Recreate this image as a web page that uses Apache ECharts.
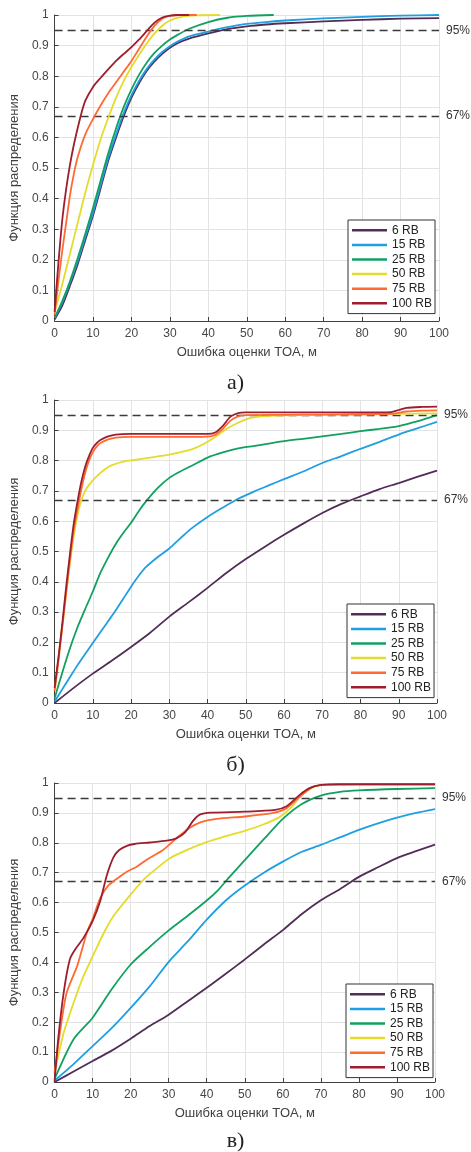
<!DOCTYPE html>
<html>
<head>
<meta charset="utf-8">
<script src="https://cdn.jsdelivr.net/npm/echarts@6/dist/echarts.min.js"></script>
<style>
html,body{margin:0;padding:0;background:#fff;}
#c{width:471px;height:1152px;}
</style>
</head>
<body>
<div id="c"></div>
<script>
// ---------- DATA ----------
var seriesNames = ['6 RB', '15 RB', '25 RB', '50 RB', '75 RB', '100 RB'];
var xTicks = [0, 10, 20, 30, 40, 50, 60, 70, 80, 90, 100];
var yTicks = [0, 0.1, 0.2, 0.3, 0.4, 0.5, 0.6, 0.7, 0.8, 0.9, 1];
var refLevels = [0.95, 0.67];
var refLabels = ['95%', '67%'];
var captions = ['а)', 'б)', 'в)'];
var xAxisTitle = 'Ошибка оценки TOA, м';
var yAxisTitle = 'Функция распределения';

// panel а)
var a6 = [[0,0.005],[2,0.05],[4,0.115],[6,0.185],[8,0.265],[10,0.345],[12,0.435],[14,0.525],[16,0.6],[18,0.67],[20,0.73],[22,0.778],[24,0.818],[26,0.848],[28,0.873],[30,0.893],[32,0.908],[35,0.923],[40,0.94],[45,0.954],[50,0.963],[55,0.969],[60,0.973],[70,0.979],[80,0.984],[90,0.988],[100,0.99]];
var a15 = [[0,0.01],[2,0.06],[4,0.125],[6,0.195],[8,0.275],[10,0.355],[12,0.445],[14,0.535],[16,0.61],[18,0.68],[20,0.738],[22,0.785],[24,0.824],[26,0.855],[28,0.879],[30,0.898],[32,0.913],[35,0.93],[40,0.946],[45,0.96],[50,0.971],[55,0.977],[60,0.982],[70,0.989],[80,0.994],[90,0.998],[100,1.0]];
var a25 = [[0,0.01],[2,0.065],[4,0.13],[6,0.205],[8,0.285],[10,0.37],[12,0.46],[14,0.55],[16,0.63],[18,0.7],[20,0.757],[22,0.805],[24,0.845],[26,0.876],[28,0.9],[30,0.92],[32,0.935],[35,0.955],[40,0.977],[45,0.991],[50,0.997],[57,1.0]];
var a50 = [[0,0.03],[2,0.12],[4,0.22],[6,0.32],[8,0.42],[10,0.51],[12,0.595],[14,0.665],[16,0.73],[18,0.785],[20,0.83],[22,0.87],[24,0.908],[26,0.94],[28,0.965],[30,0.982],[33,0.994],[37,0.999],[43,1.0]];
var a75 = [[0,0.02],[1,0.13],[2,0.23],[3,0.32],[4,0.41],[5,0.48],[6,0.535],[8,0.61],[10,0.66],[12,0.705],[14,0.745],[16,0.78],[18,0.815],[20,0.85],[22,0.89],[24,0.93],[26,0.965],[28,0.988],[30,0.997],[33,1.0],[37,1.0]];
var a100 = [[0,0.03],[1,0.19],[2,0.33],[3,0.43],[4,0.51],[5,0.575],[6,0.63],[7,0.68],[8,0.72],[10,0.765],[12,0.795],[14,0.823],[16,0.85],[18,0.873],[20,0.895],[22,0.92],[24,0.948],[26,0.975],[28,0.992],[30,0.998],[32,1.0],[35,1.0]];

// panel б)
var b6 = [[0,0],[5,0.05],[10,0.097],[15,0.14],[20,0.185],[25,0.232],[30,0.285],[35,0.332],[40,0.38],[45,0.43],[50,0.475],[55,0.516],[60,0.555],[65,0.592],[70,0.627],[75,0.657],[80,0.682],[85,0.706],[90,0.726],[95,0.747],[100,0.767]];
var b15 = [[0,0.005],[2,0.045],[4,0.085],[6,0.125],[8,0.162],[10,0.198],[12,0.234],[14,0.27],[16,0.306],[18,0.345],[20,0.384],[22,0.42],[24,0.45],[27,0.482],[30,0.51],[33,0.545],[36,0.578],[40,0.614],[44,0.645],[48,0.674],[52,0.697],[56,0.718],[60,0.739],[65,0.764],[70,0.792],[75,0.815],[80,0.839],[85,0.862],[90,0.886],[95,0.907],[100,0.928]];
var b25 = [[0,0.015],[2,0.1],[4,0.18],[6,0.25],[8,0.31],[10,0.368],[12,0.43],[14,0.48],[16,0.525],[18,0.562],[20,0.595],[22,0.633],[24,0.667],[27,0.71],[30,0.743],[33,0.765],[36,0.784],[40,0.81],[44,0.827],[48,0.84],[52,0.848],[56,0.856],[60,0.864],[65,0.872],[70,0.88],[75,0.888],[80,0.897],[85,0.905],[90,0.914],[95,0.93],[100,0.95]];
var b50 = [[0,0.04],[1,0.14],[2,0.25],[3,0.36],[4,0.46],[5,0.55],[6,0.62],[7,0.67],[8,0.7],[9,0.72],[11,0.748],[13,0.77],[15,0.785],[18,0.797],[21,0.802],[24,0.808],[27,0.814],[30,0.82],[33,0.828],[36,0.838],[39,0.855],[42,0.878],[45,0.905],[48,0.925],[51,0.94],[54,0.946],[60,0.949],[70,0.951],[80,0.952],[90,0.954],[100,0.956]];
var b75 = [[0,0.04],[1,0.14],[2,0.25],[3,0.36],[4,0.47],[5,0.57],[6,0.64],[7,0.705],[8,0.76],[9,0.8],[10,0.828],[11,0.846],[12,0.858],[14,0.87],[16,0.876],[20,0.878],[30,0.878],[40,0.879],[42,0.885],[44,0.905],[46,0.932],[48,0.946],[50,0.95],[60,0.951],[70,0.952],[80,0.953],[88,0.954],[92,0.962],[96,0.965],[100,0.966]];
var b100 = [[0,0.05],[1,0.15],[2,0.26],[3,0.38],[4,0.49],[5,0.59],[6,0.665],[7,0.73],[8,0.78],[9,0.815],[10,0.842],[11,0.858],[12,0.868],[14,0.88],[16,0.886],[20,0.888],[30,0.888],[40,0.888],[42,0.893],[44,0.915],[46,0.945],[48,0.957],[50,0.959],[60,0.959],[70,0.959],[80,0.959],[88,0.96],[90,0.967],[92,0.974],[96,0.977],[100,0.978]];

// panel в)
var c6 = [[0,0],[5,0.035],[10,0.07],[15,0.105],[20,0.145],[25,0.187],[30,0.225],[35,0.27],[40,0.315],[45,0.362],[50,0.41],[55,0.46],[60,0.508],[65,0.562],[70,0.608],[75,0.645],[80,0.686],[85,0.718],[90,0.749],[95,0.772],[100,0.794]];
var c15 = [[0,0.005],[5,0.06],[10,0.12],[15,0.18],[20,0.248],[25,0.32],[30,0.402],[35,0.47],[40,0.543],[45,0.607],[50,0.657],[55,0.7],[60,0.737],[65,0.77],[70,0.793],[75,0.818],[80,0.843],[85,0.865],[90,0.884],[95,0.9],[100,0.913]];
var c25 = [[0,0.01],[5,0.143],[10,0.215],[15,0.31],[20,0.393],[25,0.452],[30,0.507],[35,0.556],[40,0.607],[43,0.642],[46,0.686],[50,0.742],[55,0.812],[60,0.88],[65,0.93],[70,0.958],[75,0.97],[80,0.975],[90,0.98],[100,0.983]];
var c50 = [[0,0.03],[2.4,0.165],[5,0.265],[7.6,0.354],[10,0.42],[13,0.5],[15.5,0.555],[20,0.627],[23.4,0.677],[27,0.716],[30.4,0.749],[35,0.777],[40,0.802],[45,0.822],[50,0.84],[55,0.862],[59,0.885],[62,0.916],[64.5,0.953],[67,0.98],[70,0.993],[75,0.994],[100,0.994]];
var c75 = [[0,0.03],[3,0.29],[6,0.39],[8.5,0.5],[10,0.545],[12,0.615],[14,0.655],[16.4,0.68],[19,0.703],[21.6,0.72],[24.3,0.744],[28.6,0.777],[32,0.815],[34.8,0.844],[38.3,0.868],[42.6,0.88],[50,0.888],[57.5,0.9],[61,0.916],[64.5,0.955],[68,0.988],[71.5,0.994],[80,0.995],[100,0.995]];
var c100 = [[0,0],[1,0.15],[2.4,0.3],[4,0.41],[5.4,0.443],[7.6,0.482],[10,0.538],[12,0.605],[13.7,0.69],[15.5,0.752],[17,0.776],[19,0.79],[21,0.796],[25,0.801],[29.5,0.807],[32,0.815],[34.3,0.835],[36.5,0.875],[38.3,0.895],[41,0.901],[50,0.904],[58,0.91],[61,0.922],[64.5,0.961],[67,0.983],[70,0.994],[75,0.996],[100,0.996]];

var panels = [
  [a6, a15, a25, a50, a75, a100],
  [b6, b15, b25, b50, b75, b100],
  [c6, c15, c25, c50, c75, c100]
];

// ---------- STYLE ----------
var colors = ['#512d58', '#1f9fe2', '#12a060', '#e4dc2a', '#ff6a33', '#9b1f2f'];
var grids = [
  {left: 50, top: 15, width: 389, height: 306},
  {left: 52, top: 400, width: 385, height: 303},
  {left: 54, top: 783, width: 381, height: 299}
];
var legendPos = [
  {left: 348, top: 220},
  {left: 347, top: 604},
  {left: 346, top: 984}
];
var captionTop = [367, 749, 1125];
var FONT = '"Liberation Sans", Arial, sans-serif';
var SERIF = '"Liberation Serif", "Times New Roman", serif';

var chart = echarts.init(document.getElementById('c'), null, {renderer: 'canvas'});

var option = {
  animation: false,
  color: colors,
  title: [],
  grid: [],
  xAxis: [],
  yAxis: [],
  legend: [],
  series: []
};

grids.forEach(function (g, i) {
  option.grid.push({left: g.left, top: g.top, width: g.width, height: g.height, containLabel: false});
  option.title.push({
    text: captions[i], left: 'center', top: captionTop[i],
    textStyle: {fontFamily: SERIF, fontSize: 22, fontWeight: 'normal', color: '#222'}
  });
  option.xAxis.push({
    type: 'value', gridIndex: i, min: xTicks[0], max: xTicks[xTicks.length - 1],
    interval: xTicks[1] - xTicks[0],
    name: xAxisTitle, nameLocation: 'middle', nameGap: 25,
    nameTextStyle: {fontFamily: FONT, fontSize: 13, color: '#404040'},
    axisLine: {show: true, onZero: false, lineStyle: {color: '#404040', width: 1}},
    axisTick: {show: true, inside: true, length: 4, lineStyle: {color: '#404040'}},
    axisLabel: {fontFamily: FONT, fontSize: 12, color: '#474747', margin: 7},
    splitLine: {show: true, lineStyle: {color: '#e3e3e3', width: 1}}
  });
  option.yAxis.push({
    type: 'value', gridIndex: i, min: yTicks[0], max: yTicks[yTicks.length - 1],
    interval: 0.1,
    name: yAxisTitle, nameLocation: 'middle', nameGap: 25,
    nameTextStyle: {fontFamily: FONT, fontSize: 13, color: '#404040'},
    axisLine: {show: true, onZero: false, lineStyle: {color: '#404040', width: 1}},
    axisTick: {show: true, inside: true, length: 4, lineStyle: {color: '#404040'}},
    axisLabel: {
      fontFamily: FONT, fontSize: 12, color: '#474747', margin: 6,
      formatter: function (v) { return (Math.round(v * 10) / 10).toString(); }
    },
    splitLine: {show: true, lineStyle: {color: '#e3e3e3', width: 1}}
  });
  option.legend.push({
    data: seriesNames, orient: 'vertical',
    left: legendPos[i].left, top: legendPos[i].top,
    icon: 'rect', itemWidth: 35, itemHeight: 2.5, itemGap: 0,
    padding: [3, 3, 3, 4],
    backgroundColor: '#fff', borderColor: '#333', borderWidth: 1,
    selectedMode: false,
    textStyle: {fontFamily: FONT, fontSize: 12, color: '#222', lineHeight: 14.6}
  });
  panels[i].forEach(function (data, k) {
    var s = {
      name: seriesNames[k], type: 'line', xAxisIndex: i, yAxisIndex: i,
      data: data, showSymbol: false, symbol: 'none',
      smooth: 0.25,
      lineStyle: {width: 1.8, color: colors[k]},
      itemStyle: {color: colors[k]},
      z: 2 + k
    };
    if (k === panels[i].length - 1) {
      s.markLine = {
        silent: true, symbol: ['none', 'none'],
        lineStyle: {color: '#3a3a3a', type: [8, 5], width: 1.4},
        label: {show: true, position: 'end', distance: 7, fontFamily: FONT, fontSize: 12, color: '#333'},
        data: refLevels.map(function (v, j) {
          return {yAxis: v, label: {formatter: refLabels[j]}};
        })
      };
    }
    option.series.push(s);
  });
});

chart.setOption(option);
</script>
</body>
</html>
